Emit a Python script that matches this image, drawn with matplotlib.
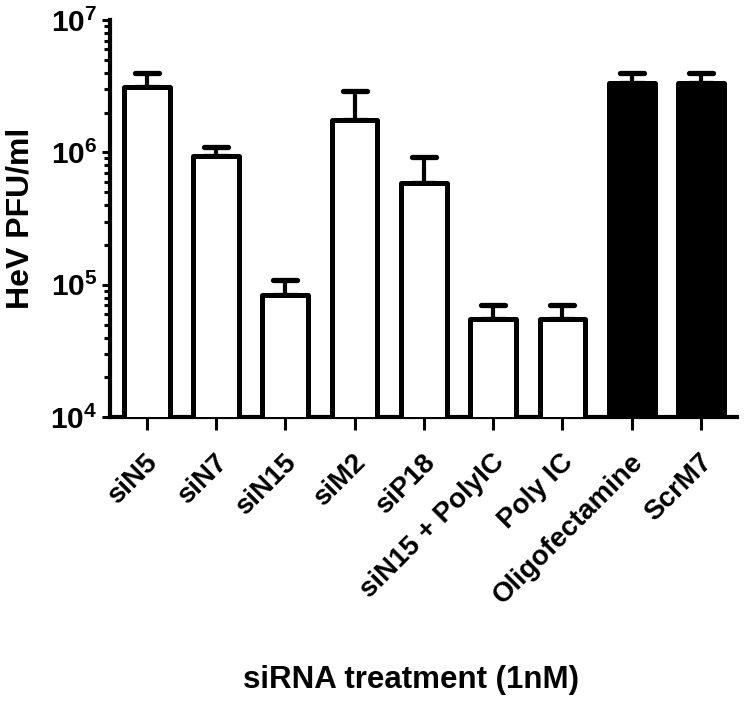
import matplotlib
matplotlib.use("Agg")
import matplotlib.pyplot as plt
import matplotlib.transforms as mtrans
from matplotlib.markers import MarkerStyle
from matplotlib.ticker import LogLocator, FuncFormatter, NullFormatter
import numpy as np

plt.rcParams['font.family'] = ['Liberation Sans', 'DejaVu Sans']
plt.rcParams['font.weight'] = 'bold'
plt.rcParams['mathtext.fontset'] = 'custom'
plt.rcParams['mathtext.rm'] = 'Liberation Sans:bold'
plt.rcParams['mathtext.bf'] = 'Liberation Sans:bold'
plt.rcParams['mathtext.default'] = 'bf'

# values (PFU/ml), mean and upper error end
treatments = ['siN5', 'siN7', 'siN15', 'siM2', 'siP18', 'siN15 + PolyIC',
              'Poly IC', 'Oligofectamine', 'ScrM7']
means = [3.1e6, 9.4e5, 8.4e4, 1.75e6, 5.9e5, 5.5e4, 5.5e4, 3.33e6, 3.33e6]
upper = [4.0e6, 1.1e6, 1.08e5, 2.9e6, 9.3e5, 7.0e4, 7.0e4, 4.0e6, 4.0e6]
fills = ['white'] * 7 + ['black'] * 2

fig = plt.figure(figsize=(7.44, 7.04), dpi=100)
ax = fig.add_axes([0.1478, 0.4072, 0.8428, 0.5644])
ax.set_yscale('log')

x = np.arange(len(treatments))
means = np.array(means)
upper = np.array(upper)
ax.bar(x, means, width=0.66, color=fills, edgecolor='black', linewidth=3.6,
       joinstyle='round', zorder=3)
eb = ax.errorbar(x, means, yerr=[np.zeros_like(means), upper - means], fmt='none',
                 ecolor='black', elinewidth=3, capsize=8.5, capthick=3.8, zorder=2)
for cl in eb[1]:
    cl.set_marker(MarkerStyle('_', capstyle='round'))

ax.set_ylim(1e4, 1e7)
ax.set_xlim(-0.53, 8.52)

ax.yaxis.set_major_locator(LogLocator(base=10, numticks=10))
ax.yaxis.set_minor_locator(LogLocator(base=10, subs=np.arange(2, 10), numticks=10))
ax.yaxis.set_minor_formatter(NullFormatter())
ax.yaxis.set_major_formatter(FuncFormatter(lambda v, p: r'$10^{%d}$' % round(np.log10(v))))

for side in ['top', 'right']:
    ax.spines[side].set_visible(False)
for side in ['left', 'bottom']:
    ax.spines[side].set_linewidth(3)

ax.tick_params(axis='y', which='major', length=6, width=2.2, labelsize=21.5, pad=3)
ax.tick_params(axis='y', which='minor', length=4, width=2.2)
ax.tick_params(axis='x', which='major', length=9, width=2.2, pad=14)

ax.set_xticks(x)
ax.set_xticklabels(treatments, rotation=45, ha='right', va='top',
                   rotation_mode='anchor', fontsize=20, fontweight='bold')
shift = mtrans.ScaledTranslation(-2 / 100, 0, fig.dpi_scale_trans)
for lab in ax.get_xticklabels():
    lab.set_transform(lab.get_transform() + shift)

ax.set_ylabel('HeV PFU/ml', fontsize=23, fontweight='bold')
ax.yaxis.set_label_coords(-0.119, 0.5)
fig.text(411 / 744, 1 - 680 / 704, 'siRNA treatment (1nM)', fontsize=22.5,
         fontweight='bold', ha='center', va='center')

fig.savefig('out.png', dpi=100)
